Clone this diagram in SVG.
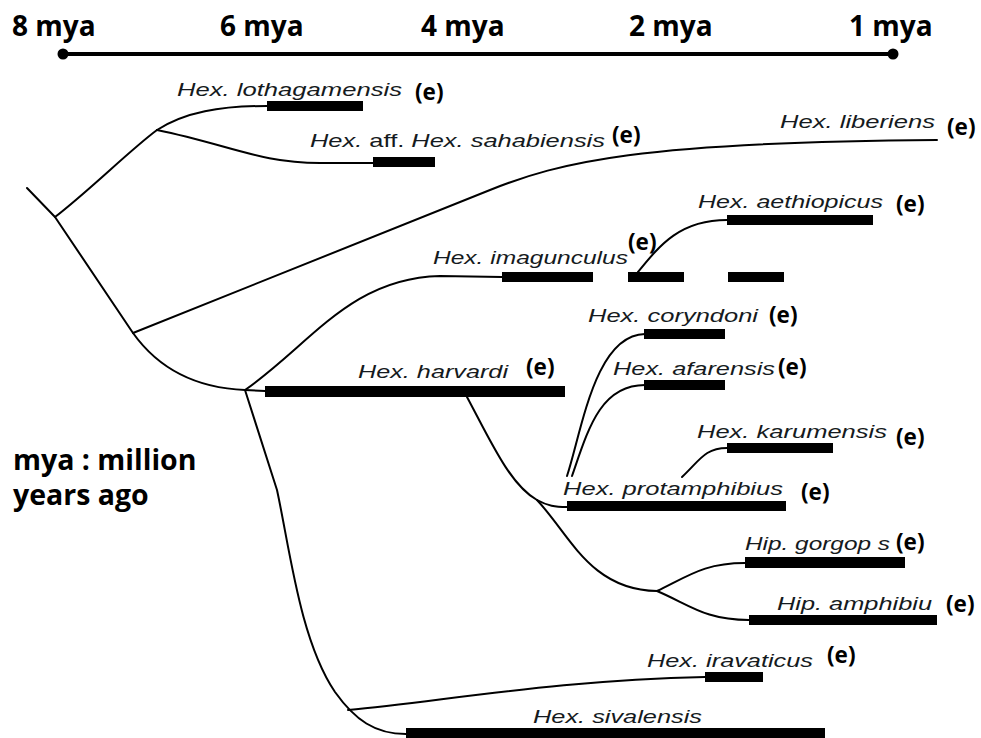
<svg xmlns="http://www.w3.org/2000/svg" width="981" height="738" viewBox="0 0 981 738">
<style>
.axl{font-family:"Open Sans","Liberation Sans",sans-serif;font-weight:bold;font-size:28px;fill:#000}
.leg{font-family:"Open Sans","Liberation Sans",sans-serif;font-weight:bold;font-size:28.5px;fill:#000}
.sp{font-family:"Liberation Sans",Arial,sans-serif;font-style:italic;font-size:19px;fill:#151a20}
.up{font-style:normal}
.e{font-family:"Open Sans","Liberation Sans",sans-serif;font-weight:bold;font-size:22.5px;fill:#000}
.bar{fill:#000}
.br{fill:none;stroke:#000;stroke-width:2;stroke-linecap:round;stroke-linejoin:round}
</style>
<rect width="981" height="738" fill="#fff"/>
<g id="axis">
<line x1="63" y1="54" x2="893" y2="54" stroke="#000" stroke-width="4"/>
<circle cx="63" cy="54" r="5.5" fill="#000"/>
<circle cx="893" cy="54" r="5.5" fill="#000"/>
<text class="axl" x="12" y="36">8 mya</text>
<text class="axl" x="220" y="36">6 mya</text>
<text class="axl" x="421" y="36">4 mya</text>
<text class="axl" x="629" y="36">2 mya</text>
<text class="axl" x="849" y="36">1 mya</text>
</g>
<g id="legend">
<text class="leg" x="13" y="470">mya : million</text>
<text class="leg" x="13" y="505">years ago</text>
</g>
<g id="connectors">
<path class="br" d="M27,188 L55,217 L133,333 C158,368 195,388 245,390"/>
<path class="br" d="M55,217 C90,190 130,150 157,130"/>
<path class="br" d="M157,130 C185,112 220,106 267,106"/>
<path class="br" d="M157,130 C230,145 260,163 320,163 L373,163"/>
<path class="br" d="M133,333 L490,190 C560,162 640,142 937,140"/>
<path class="br" d="M245,390 C310,345 350,278 440,276 L502,277"/>
<path class="br" d="M245,390 L265,391"/>
<path class="br" d="M245,390 L277,490 C290,550 300,640 335,692 C355,720 375,734 406,734"/>
<path class="br" d="M348,710 C450,700 560,680 705,677"/>
<path class="br" d="M467,397 C490,440 510,485 537,500 C548,506 555,507 567,507"/>
<path class="br" d="M537,500 C570,535 590,590 657,591"/>
<path class="br" d="M657,591 C690,575 705,563 745,563"/>
<path class="br" d="M657,591 C690,605 705,620 749,620"/>
<path class="br" d="M567,476 C582,430 595,335 645,334"/>
<path class="br" d="M572,476 C588,430 600,385 645,385"/>
<path class="br" d="M682,477 C700,460 705,448 727,448"/>
<path class="br" d="M638,272 C660,245 680,220 727,220"/>
</g>
<g id="lothagamensis">
<rect class="bar" x="267" y="101" width="96" height="10"/>
<text class="sp" x="177" y="96" textLength="225" lengthAdjust="spacingAndGlyphs">Hex. lothagamensis</text>
<text class="e" x="415" y="100">(e)</text>
</g>
<g id="sahabiensis">
<rect class="bar" x="373" y="157" width="62" height="10"/>
<text class="sp" x="310" y="147" textLength="295" lengthAdjust="spacingAndGlyphs">Hex. <tspan class="up">aff.</tspan> Hex. sahabiensis</text>
<text class="e" x="612" y="143">(e)</text>
</g>
<g id="liberiensis">
<text class="sp" x="780" y="128" textLength="155" lengthAdjust="spacingAndGlyphs">Hex. liberiens</text>
<text class="e" x="947" y="135">(e)</text>
</g>
<g id="aethiopicus">
<rect class="bar" x="727" y="215" width="146" height="10"/>
<text class="sp" x="698" y="208" textLength="185" lengthAdjust="spacingAndGlyphs">Hex. aethiopicus</text>
<text class="e" x="896" y="212">(e)</text>
</g>
<g id="imagunculus">
<rect class="bar" x="502" y="272" width="91" height="10"/>
<rect class="bar" x="628" y="272" width="56" height="10"/>
<rect class="bar" x="728" y="272" width="56" height="10"/>
<text class="sp" x="433" y="264" textLength="195" lengthAdjust="spacingAndGlyphs">Hex. imagunculus</text>
<text class="e" x="628" y="250">(e)</text>
</g>
<g id="coryndoni">
<rect class="bar" x="644" y="329" width="81" height="10"/>
<text class="sp" x="588" y="322" textLength="170" lengthAdjust="spacingAndGlyphs">Hex. coryndoni</text>
<text class="e" x="769" y="323">(e)</text>
</g>
<g id="harvardi">
<rect class="bar" x="265" y="386" width="300" height="11"/>
<text class="sp" x="358" y="378" textLength="150" lengthAdjust="spacingAndGlyphs">Hex. harvardi</text>
<text class="e" x="526" y="375">(e)</text>
</g>
<g id="afarensis">
<rect class="bar" x="644" y="380" width="81" height="10"/>
<text class="sp" x="613" y="375" textLength="162" lengthAdjust="spacingAndGlyphs">Hex. afarensis</text>
<text class="e" x="778" y="375">(e)</text>
</g>
<g id="karumensis">
<rect class="bar" x="727" y="443" width="106" height="10"/>
<text class="sp" x="697" y="438" textLength="190" lengthAdjust="spacingAndGlyphs">Hex. karumensis</text>
<text class="e" x="896" y="445">(e)</text>
</g>
<g id="protamphibius">
<rect class="bar" x="567" y="501" width="219" height="10"/>
<text class="sp" x="563" y="495" textLength="220" lengthAdjust="spacingAndGlyphs">Hex. protamphibius</text>
<text class="e" x="801" y="500">(e)</text>
</g>
<g id="gorgops">
<rect class="bar" x="745" y="557" width="160" height="11"/>
<text class="sp" x="745" y="550" textLength="145" lengthAdjust="spacingAndGlyphs">Hip. gorgop s</text>
<text class="e" x="896" y="550">(e)</text>
</g>
<g id="amphibius">
<rect class="bar" x="749" y="615" width="188" height="10"/>
<text class="sp" x="777" y="610" textLength="155" lengthAdjust="spacingAndGlyphs">Hip. amphibiu</text>
<text class="e" x="946" y="612">(e)</text>
</g>
<g id="iravaticus">
<rect class="bar" x="705" y="672" width="58" height="10"/>
<text class="sp" x="647" y="667" textLength="166" lengthAdjust="spacingAndGlyphs">Hex. iravaticus</text>
<text class="e" x="827" y="663">(e)</text>
</g>
<g id="sivalensis">
<rect class="bar" x="406" y="728" width="419" height="12"/>
<text class="sp" x="533" y="723" textLength="169" lengthAdjust="spacingAndGlyphs">Hex. sivalensis</text>
</g>
</svg>
